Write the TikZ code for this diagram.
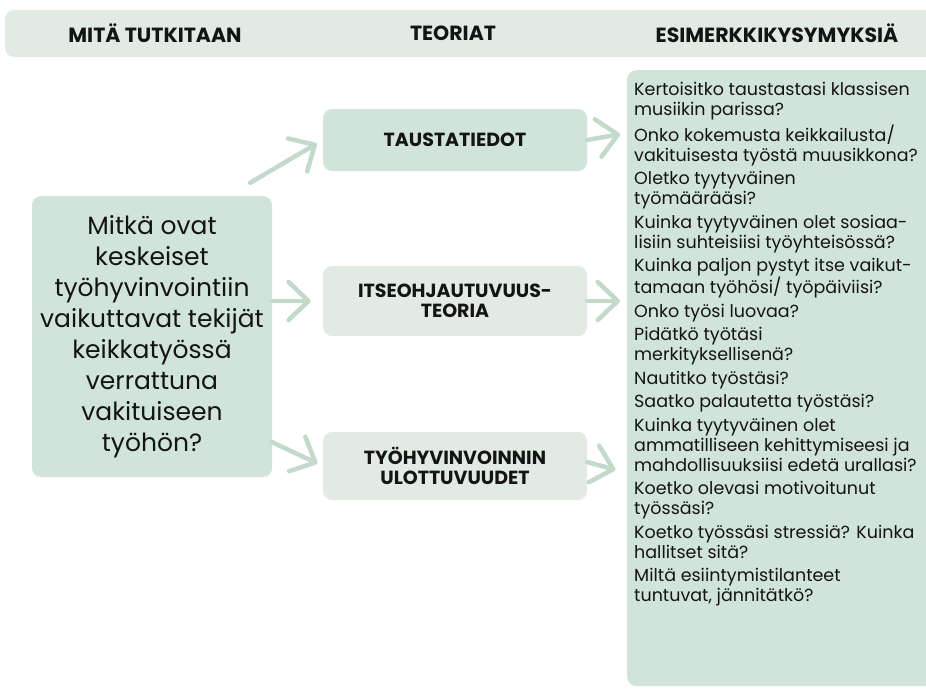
\documentclass[tikz,border=0pt]{standalone}
\usepackage{fontspec}
\setmainfont{Poppins}
\usetikzlibrary{arrows.meta,calc}
\definecolor{mintdark}{HTML}{D1E4D9}
\definecolor{mintlight}{HTML}{E1EBE4}
\definecolor{arrowgreen}{HTML}{C3D9CA}
\definecolor{ink}{HTML}{141414}

\tikzset{
  panel/.style={fill=#1, rounded corners=9pt, draw=none, inner sep=0pt},
  theory/.style={panel=#1, minimum width=264pt, align=center,
    font=\fontsize{19}{20}\selectfont\bfseries, text=ink},
  heading/.style={font=\fontsize{20.5}{22}\selectfont\bfseries, text=ink},
  arr/.style={draw=arrowgreen, line width=4.5pt, line cap=round,
    -{Straight Barb[length=20pt,width=38pt,round]}},
}

\begin{document}
\begin{tikzpicture}[x=1pt,y=-1pt]
  \useasboundingbox (0,0) rectangle (926,688);
  \fill[white] (0,0) rectangle (926,688);

  % header
  \node[panel=mintlight, minimum width=935pt, minimum height=47pt] (bar) at (472.5,33.5) {};
  \node[heading] (h1) at (155,33) {MITÄ TUTKITAAN};
  \node[heading] (h2) at (453,33) {TEORIAT};
  \node[heading] (h3) at (777,33) {ESIMERKKIKYSYMYKSIÄ};

  % research question
  \node[panel=mintdark, minimum width=240pt, minimum height=281pt, align=center, text=ink,
        font=\fontsize{25}{31}\selectfont] (lq) at (152,336.5)
        {Mitkä ovat\\ keskeiset\\ työhyvinvointiin\\ vaikuttavat tekijät\\ keikkatyössä\\ verrattuna\\ vakituiseen\\ työhön?};

  % theories
  \node[theory=mintdark, minimum height=62pt] (taus) at (455,140) {TAUSTATIEDOT};
  \node[theory=mintlight, minimum height=70pt] (itse) at (455,301) {ITSEOHJAUTUVUUS-\\TEORIA};
  \node[theory=mintlight, minimum height=68pt] (tyo) at (455,466) {TYÖHYVINVOINNIN\\ULOTTUVUUDET};

  % questions
  \node[panel=mintdark, anchor=north west, minimum width=313pt, minimum height=616pt] (qbox) at (627,70) {};
  \node[anchor=north west, inner sep=0pt, align=left, text=ink,
        font=\fontsize{17.5}{20}\selectfont] (qtext) at ($(qbox.north west)+(7,12)$)
        {Kertoisitko taustastasi klassisen\\ musiikin parissa?\\[3.5pt]
         Onko kokemusta keikkailusta/\\ vakituisesta työstä muusikkona?\\[3.5pt]
         Oletko tyytyväinen\\ työmäärääsi?\\[3.5pt]
         Kuinka tyytyväinen olet sosiaa-\\ lisiin suhteisiisi työyhteisössä?\\[3.5pt]
         Kuinka paljon pystyt itse vaikut-\\ tamaan työhösi/ työpäiviisi?\\[3.5pt]
         Onko työsi luovaa?\\[3.5pt]
         Pidätkö työtäsi\\ merkityksellisenä?\\[3.5pt]
         Nautitko työstäsi?\\[3.5pt]
         Saatko palautetta työstäsi?\\[3.5pt]
         Kuinka tyytyväinen olet\\ ammatilliseen kehittymiseesi ja\\ mahdollisuuksiisi edetä urallasi?\\[3.5pt]
         Koetko olevasi motivoitunut\\ työssäsi?\\[3.5pt]
         Koetko työssäsi stressiä? Kuinka\\ hallitset sitä?\\[3.5pt]
         Miltä esiintymistilanteet\\ tuntuvat, jännitätkö?};

  % arrows
  \draw[arr, shorten >=7pt] ($(lq.north east)+(-22,-13)$) -- (taus.west);
  \draw[arr, shorten >=12pt] (lq.east |- itse.west) -- (itse.west);
  \draw[arr, shorten >=6pt] ($(lq.south east)+(0,-35)$) -- (tyo.west);
  \draw[arr, shorten >=7pt] (taus.east) -- ($(taus.east -| qbox.west)+(0,-7)$);
  \draw[arr, shorten >=7pt] (itse.east) -- (itse.east -| qbox.west);
  \draw[arr, shorten >=12pt] ($(tyo.east)+(0,-4)$) -- ($(tyo.east -| qbox.west)+(0,7)$);
\end{tikzpicture}
\end{document}
